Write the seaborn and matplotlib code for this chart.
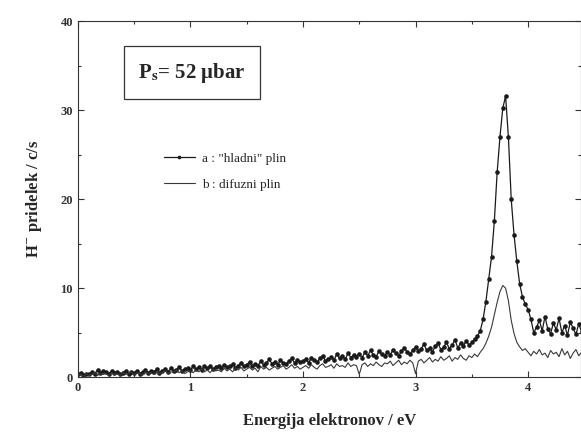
import numpy as np
import pandas as pd
import matplotlib
matplotlib.use("Agg")
import matplotlib.pyplot as plt
import seaborn as sns
from matplotlib.ticker import MultipleLocator

# measurement grid (eV), 0.025 eV step
energy = np.round(np.linspace(0, 4.5, 181), 3)

# a : "hladni" plin
cold = [
    0.3, 0.5, 0.2, 0.4, 0.3, 0.6, 0.4, 0.8, 0.5, 0.7,
    0.6, 0.4, 0.7, 0.5, 0.6, 0.3, 0.5, 0.7, 0.4, 0.6,
    0.5, 0.7, 0.4, 0.6, 0.8, 0.5, 0.7, 0.6, 0.9, 0.5,
    0.7, 0.9, 0.6, 1.0, 0.7, 0.8, 1.1, 0.7, 0.9, 1.0,
    0.8, 1.2, 0.9, 1.1, 0.8, 1.3, 1.0, 1.2, 0.9, 1.1,
    1.3, 1.0, 1.4, 1.1, 1.2, 1.5, 1.0, 1.3, 1.6, 1.2,
    1.4, 1.7, 1.2, 1.5, 1.3, 1.8, 1.4, 1.6, 2.0, 1.5,
    1.7, 1.4, 1.9, 1.6, 1.5, 1.8, 2.1, 1.6, 1.9, 1.7,
    1.8, 2.0, 1.6, 2.2, 1.9, 1.7, 2.1, 2.4, 1.8, 2.0,
    2.3, 1.9, 2.6, 2.1, 2.4, 2.0, 2.7, 2.2, 2.5, 2.3,
    2.6, 2.2, 2.8, 2.4, 3.0, 2.5, 2.3, 2.9, 2.6, 2.4,
    2.8, 2.5, 3.1, 2.7, 2.4, 2.9, 3.3, 2.8, 2.6, 3.0,
    3.4, 2.9, 3.2, 3.7, 3.0, 3.3, 2.8, 3.5, 3.8, 3.1,
    3.4, 3.9, 3.2, 3.6, 4.2, 3.3, 3.8, 3.5, 4.1, 3.6,
    3.9, 4.3, 4.6, 5.2, 6.5, 8.5, 11.0, 13.5, 17.5, 23.0,
    27.0, 30.2, 31.6, 27.0, 20.0, 16.0, 13.0, 10.5, 9.0, 8.2,
    7.6, 6.5, 5.0, 5.6, 6.4, 5.2, 6.8, 5.4, 4.9, 6.1,
    5.3, 6.6, 5.0, 5.8, 4.7, 6.2, 5.5, 4.8, 6.0, 5.1, 5.6,
]

# b : difuzni plin
diffuse = [
    0.2, 0.3, 0.1, 0.4, 0.2, 0.3, 0.5, 0.2, 0.4, 0.3,
    0.4, 0.2, 0.5, 0.3, 0.4, 0.2, 0.5, 0.3, 0.4, 0.6,
    0.3, 0.5, 0.4, 0.2, 0.6, 0.4, 0.5, 0.3, 0.6, 0.4,
    0.5, 0.7, 0.4, 0.6, 0.5, 0.8, 0.5, 0.7, 0.4, 0.6,
    0.7, 0.5, 0.8, 0.6, 0.9, 0.6, 0.8, 0.5, 0.9, 0.7,
    0.8, 0.6, 1.0, 0.7, 0.9, 0.6, 1.0, 0.8, 1.1, 0.7,
    0.9, 1.1, 0.8, 1.0, 0.6, 1.2, 0.9, 1.1, 0.8, 1.0,
    1.2, 0.9, 1.1, 1.3, 0.9, 1.1, 1.4, 1.0, 1.2, 0.9,
    1.1, 1.3, 1.0, 1.4, 1.1, 0.9, 1.3, 1.5, 1.1, 1.2,
    1.4, 1.0, 1.5, 1.2, 1.3, 1.1, 1.6, 1.2, 1.4, 1.3,
    0.3, 1.4, 1.6, 1.2, 1.5, 1.3, 1.7, 1.4, 1.2, 1.6,
    1.5, 1.8, 1.3, 1.6, 1.9, 1.4, 1.7, 1.5, 1.9, 1.6,
    0.4, 1.8, 2.0, 1.6, 1.9, 2.2, 1.7, 2.0, 1.8, 2.3,
    1.9, 2.1, 2.4, 1.8, 2.2, 2.0, 2.5, 2.1, 1.9, 2.4,
    2.2, 2.6, 2.3, 2.8, 3.2, 3.8, 4.6, 5.6, 7.0, 8.4,
    9.6, 10.3, 10.0, 8.6, 6.4, 4.9, 3.9, 3.4, 3.0, 3.2,
    2.8, 2.4, 2.9, 2.6, 3.1, 2.5, 2.7, 2.2, 3.0, 2.6,
    2.8, 2.3, 3.2, 2.5, 2.9, 2.1, 2.7, 3.1, 2.4, 2.8, 2.6,
]

labels = ['a : "hladni" plin', 'b : difuzni plin']

df = pd.DataFrame({"E": energy, "a": cold, "b": diffuse})

sns.set_style("ticks")
plt.rcParams['font.family'] = ['Liberation Serif', 'DejaVu Serif']
plt.rcParams['mathtext.fontset'] = 'stix'

fig = plt.figure(figsize=(5.81, 4.33), dpi=100)
ax = fig.add_axes([0.134, 0.129, 0.866, 0.822])

sns.lineplot(data=df, x="E", y="a", ax=ax, color="#1a1a1a", lw=0.9,
             marker="o", markersize=3.3, markeredgewidth=0, label=labels[0])
sns.lineplot(data=df, x="E", y="b", ax=ax, color="#3a3a3a", lw=0.8,
             label=labels[1])

ax.set_xlim(0, 4.47)
ax.set_ylim(0, 40)
ax.xaxis.set_major_locator(MultipleLocator(1))
ax.xaxis.set_minor_locator(MultipleLocator(0.5))
ax.yaxis.set_major_locator(MultipleLocator(10))
ax.yaxis.set_minor_locator(MultipleLocator(5))
ax.tick_params(which="both", direction="in", top=True, right=True,
               labelsize=9, colors="#333333", width=0.8)
ax.tick_params(which="major", length=4)
ax.tick_params(which="minor", length=2.5)
for t in ax.get_xticklabels() + ax.get_yticklabels():
    t.set_fontweight("bold")
for s in ax.spines.values():
    s.set_linewidth(0.8)
    s.set_color("#333333")

ax.set_xlabel("Energija elektronov / eV", fontsize=12, fontweight="bold",
              labelpad=14)
ax.set_ylabel("H$^{-}$ pridelek / c/s", fontsize=12, fontweight="bold",
              labelpad=12)

ax.text(0.12, 0.855, "P$_\\mathbf{s}$= 52 μbar", transform=ax.transAxes,
        fontsize=15, fontweight="bold", va="center", ha="left",
        bbox=dict(boxstyle="square,pad=0.7", facecolor="white",
                  edgecolor="#333333", linewidth=0.9))

leg = ax.legend(loc="upper left", bbox_to_anchor=(0.16, 0.645), frameon=False,
                fontsize=9.5, handlelength=2.4, handletextpad=0.5,
                labelspacing=1.0, borderaxespad=0, markerscale=0.8)

fig.savefig("out.png", dpi=100)
